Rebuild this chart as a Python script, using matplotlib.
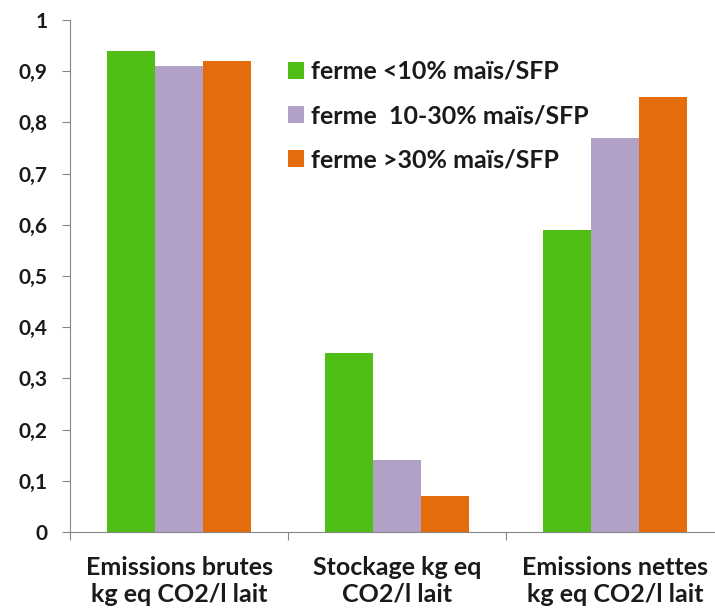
import numpy as np
import matplotlib.pyplot as plt

# Data
categories = ["Emissions brutes\nkg eq CO2/l lait",
              "Stockage kg eq\nCO2/l lait",
              "Emissions nettes\nkg eq CO2/l lait"]
series_names = ["ferme <10% maïs/SFP",
                "ferme  10-30% maïs/SFP",
                "ferme >30% maïs/SFP"]
low_maize = [0.94, 0.35, 0.59]
mid_maize = [0.91, 0.14, 0.77]
high_maize = [0.92, 0.07, 0.85]
y_ticks = [0, 0.1, 0.2, 0.3, 0.4, 0.5, 0.6, 0.7, 0.8, 0.9, 1]

colors = ["#4fbf16", "#b2a1c7", "#e46c0a"]
plt.rcParams['font.family'] = ['Lato', 'DejaVu Sans']

fig = plt.figure(figsize=(7.15, 6.12), dpi=100)
ax = fig.add_axes([0.098, 0.1307, 0.915, 0.8366])

x = np.arange(len(categories))
width = 0.22
for i, (vals, name) in enumerate(zip([low_maize, mid_maize, high_maize], series_names)):
    ax.bar(x + (i - 1) * width, vals, width, color=colors[i], label=name)

ax.set_xlim(-0.5, 2.5)
ax.set_ylim(0, 1)
ax.set_yticks(y_ticks)
ax.set_yticklabels([("%g" % t).replace(".", ",") for t in y_ticks],
                   fontsize=15, fontweight="bold", color="#1a1a1a")

# group boundaries as major ticks, labels at centres
ax.set_xticks([-0.5, 0.5, 1.5, 2.5])
ax.set_xticklabels([])
ax.set_xticks(x, minor=True)
ax.set_xticklabels(categories, minor=True, fontsize=18, fontweight="bold",
                   color="#1a1a1a", linespacing=1.22)
ax.tick_params(axis="x", which="minor", length=0, pad=17)
ax.tick_params(axis="x", which="major", length=6, color="#868686")
ax.tick_params(axis="y", length=6, color="#868686", pad=10)

for s in ["top", "right"]:
    ax.spines[s].set_visible(False)
for s in ["left", "bottom"]:
    ax.spines[s].set_color("#868686")

leg = ax.legend(loc="upper left", bbox_to_anchor=(0.403, 0.902),
                bbox_transform=fig.transFigure, borderaxespad=0, borderpad=0,
                frameon=False, handlelength=0.65, handleheight=0.65,
                handletextpad=0.25, labelspacing=0.85,
                prop={"size": 18, "weight": "bold"})
for t in leg.get_texts():
    t.set_color("#1a1a1a")

fig.savefig("out.png", dpi=100)
